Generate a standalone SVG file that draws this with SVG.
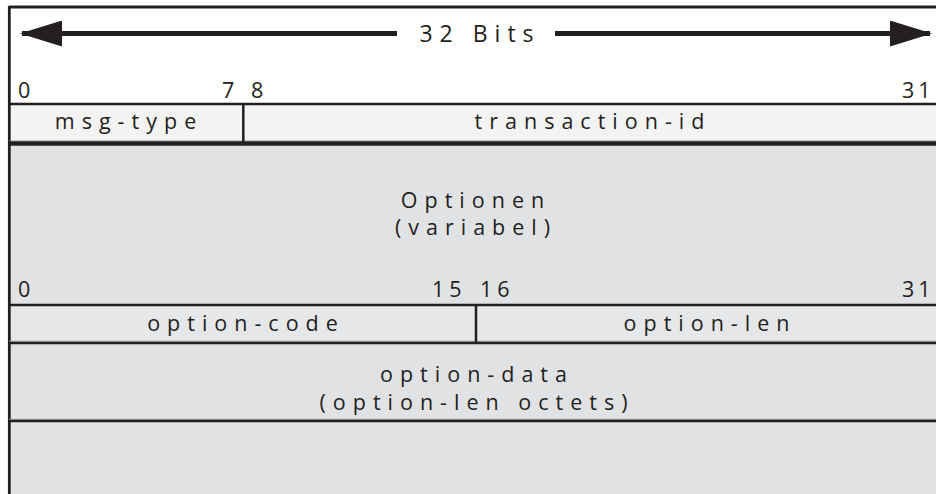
<svg xmlns="http://www.w3.org/2000/svg" width="936" height="494" viewBox="0 0 936 494">
  <style>
    .lbl { font-family: "Open Sans", "Liberation Sans", sans-serif; font-size: 21.5px; fill: #231f20; letter-spacing: 7px; }
    .num { font-family: "Open Sans", "Liberation Sans", sans-serif; font-size: 21.5px; fill: #231f20; letter-spacing: 5px; }
    .mid { text-anchor: middle; }
    .rule { stroke: #231f20; fill: none; }
    .shade { stroke: #9c9c9e; stroke-width: 1; fill: none; }
  </style>
  <defs>
    <marker id="head" viewBox="0 0 42 26" refX="40" refY="13" markerWidth="42" markerHeight="26" markerUnits="userSpaceOnUse" orient="auto-start-reverse">
      <path d="M0,0 L42,13 L0,26 Z" fill="#231f20"/>
    </marker>
  </defs>

  <!-- backgrounds -->
  <rect x="0" y="0" width="936" height="494" fill="#ffffff"/>
  <rect x="9" y="104" width="940" height="40" fill="#f3f3f3"/>
  <rect x="9" y="144" width="940" height="350" fill="#e1e2e4"/>
  <rect x="9" y="305" width="940" height="38" fill="#e6e7e9"/>

  <!-- header: width arrow -->
  <g id="width-arrow">
    <line class="rule" x1="22" y1="33.5" x2="397" y2="33.5" stroke-width="5" marker-start="url(#head)"/>
    <line class="rule" x1="555" y1="33.5" x2="930" y2="33.5" stroke-width="5" marker-end="url(#head)"/>
    <text class="lbl mid" x="480" y="42" style="font-size:23px">32 Bits</text>
  </g>

  <!-- connectors / rules -->
  <g id="rules">
    <line class="rule" x1="9" y1="7" x2="940" y2="7" stroke-width="3"/>
    <line class="rule" x1="9.3" y1="6" x2="9.3" y2="494" stroke-width="2.8"/>
    <line class="rule" x1="9" y1="104" x2="940" y2="104" stroke-width="2.5"/>
    <line class="shade" x1="9" y1="141" x2="940" y2="141"/>
    <line class="rule" x1="9" y1="143.5" x2="940" y2="143.5" stroke-width="4.5"/>
    <line class="rule" x1="243.3" y1="104" x2="243.3" y2="143" stroke-width="2.5"/>
    <line class="rule" x1="9" y1="305" x2="940" y2="305" stroke-width="2.5"/>
    <line class="shade" x1="9" y1="341.3" x2="940" y2="341.3"/>
    <line class="rule" x1="9" y1="343" x2="940" y2="343" stroke-width="2.5"/>
    <line class="rule" x1="476" y1="305" x2="476" y2="343" stroke-width="2.5"/>
    <line class="shade" x1="9" y1="419.3" x2="940" y2="419.3"/>
    <line class="rule" x1="9" y1="421" x2="940" y2="421" stroke-width="2.5"/>
  </g>

  <!-- bit positions, first word -->
  <g id="bits-header">
    <text class="num" x="18" y="98">0</text>
    <text class="num" x="222" y="98">7</text>
    <text class="num" x="251" y="98">8</text>
    <text class="num" x="902" y="98" style="letter-spacing:4px">31</text>
  </g>

  <g id="msg-type">
    <text class="lbl mid" x="129" y="128.5">msg-type</text>
  </g>
  <g id="transaction-id">
    <text class="lbl mid" x="593" y="128.5">transaction-id</text>
  </g>

  <g id="optionen">
    <text class="lbl mid" x="476" y="208">Optionen</text>
    <text class="lbl mid" x="476" y="235">(variabel)</text>
  </g>

  <!-- bit positions, option word -->
  <g id="bits-option">
    <text class="num" x="18" y="297">0</text>
    <text class="num" x="432" y="297">15</text>
    <text class="num" x="480" y="297">16</text>
    <text class="num" x="902" y="297" style="letter-spacing:4px">31</text>
  </g>

  <g id="option-code">
    <text class="lbl mid" x="246" y="331">option-code</text>
  </g>
  <g id="option-len">
    <text class="lbl mid" x="710" y="331">option-len</text>
  </g>

  <g id="option-data">
    <text class="lbl mid" x="477" y="382">option-data</text>
    <text class="lbl mid" x="477" y="410">(option-len octets)</text>
  </g>
</svg>
